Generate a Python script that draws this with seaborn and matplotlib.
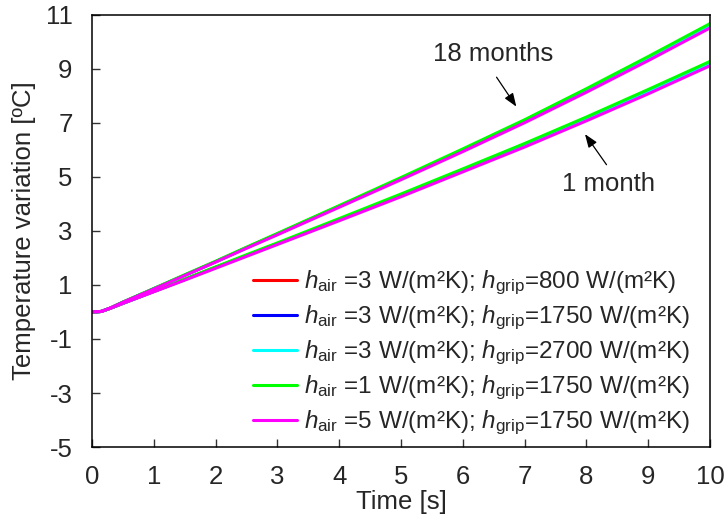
import numpy as np
import pandas as pd
import matplotlib
matplotlib.use("Agg")
import matplotlib.pyplot as plt
import seaborn as sns

# ----------------------------------------------------------
# DATA
# ----------------------------------------------------------
time_s = [0, 0.15, 0.3, 0.5, 1, 1.5, 2, 2.5, 3, 4, 5, 6, 7, 8, 9, 10]

# 18 months curves
red_18 = [0, 0.02, 0.15, 0.36, 0.86, 1.36, 1.86, 2.38, 2.89, 3.92, 4.95, 6.00, 7.07, 8.21, 9.39, 10.61]
blue_18 = [0, 0.02, 0.15, 0.36, 0.86, 1.36, 1.86, 2.38, 2.88, 3.91, 4.94, 5.99, 7.06, 8.20, 9.38, 10.60]
cyan_18 = [0, 0.02, 0.15, 0.36, 0.86, 1.36, 1.86, 2.37, 2.88, 3.90, 4.93, 5.98, 7.05, 8.19, 9.37, 10.59]
green_18 = [0, 0.02, 0.15, 0.37, 0.87, 1.38, 1.88, 2.40, 2.91, 3.94, 4.98, 6.04, 7.12, 8.27, 9.46, 10.68]
magenta_18 = [0, 0.02, 0.15, 0.36, 0.85, 1.35, 1.85, 2.36, 2.86, 3.88, 4.90, 5.94, 7.01, 8.14, 9.31, 10.52]

# 1 month curves
red_1 = [0, 0.02, 0.14, 0.32, 0.76, 1.20, 1.65, 2.09, 2.53, 3.42, 4.32, 5.24, 6.17, 7.15, 8.16, 9.20]
blue_1 = [0, 0.02, 0.14, 0.32, 0.76, 1.20, 1.65, 2.09, 2.53, 3.42, 4.31, 5.23, 6.16, 7.14, 8.15, 9.19]
cyan_1 = [0, 0.02, 0.14, 0.32, 0.76, 1.20, 1.64, 2.08, 2.52, 3.41, 4.31, 5.23, 6.16, 7.13, 8.14, 9.18]
green_1 = [0, 0.02, 0.14, 0.33, 0.77, 1.22, 1.67, 2.12, 2.56, 3.46, 4.37, 5.30, 6.24, 7.22, 8.24, 9.28]
magenta_1 = [0, 0.02, 0.14, 0.32, 0.75, 1.18, 1.62, 2.06, 2.50, 3.38, 4.27, 5.19, 6.11, 7.08, 8.08, 9.12]

labels = [
    r"$h_{\mathrm{air}}$ =3 W/(m²K); $h_{\mathrm{grip}}$=800 W/(m²K)",
    r"$h_{\mathrm{air}}$ =3 W/(m²K); $h_{\mathrm{grip}}$=1750 W/(m²K)",
    r"$h_{\mathrm{air}}$ =3 W/(m²K); $h_{\mathrm{grip}}$=2700 W/(m²K)",
    r"$h_{\mathrm{air}}$ =1 W/(m²K); $h_{\mathrm{grip}}$=1750 W/(m²K)",
    r"$h_{\mathrm{air}}$ =5 W/(m²K); $h_{\mathrm{grip}}$=1750 W/(m²K)",
]
colors = ["#ff0000", "#0000ff", "#00ffff", "#00ff00", "#ff00ff"]
curves_18 = [red_18, blue_18, cyan_18, green_18, magenta_18]
curves_1 = [red_1, blue_1, cyan_1, green_1, magenta_1]

xticks = list(range(0, 11))
yticks = [-5, -3, -1, 1, 3, 5, 7, 9, 11]

# ----------------------------------------------------------
# LONG FORMAT TABLE
# ----------------------------------------------------------
rows = []
for lab, c18, c1 in zip(labels, curves_18, curves_1):
    for t, v in zip(time_s, c18):
        rows.append((lab, "18 months", t, v))
    for t, v in zip(time_s, c1):
        rows.append((lab, "1 month", t, v))
df = pd.DataFrame(rows, columns=["case", "age", "time", "temp"])

# ----------------------------------------------------------
# STYLE
# ----------------------------------------------------------
sns.set_style("ticks")
plt.rcParams["font.family"] = ["Liberation Sans", "DejaVu Sans"]
plt.rcParams["mathtext.fontset"] = "custom"
plt.rcParams["mathtext.rm"] = "Liberation Sans"
plt.rcParams["mathtext.it"] = "Liberation Sans:italic"
plt.rcParams["axes.unicode_minus"] = False

fig = plt.figure(figsize=(7.28, 5.15), dpi=100)
ax = fig.add_axes([0.1264, 0.132, 0.849, 0.839])

sns.lineplot(
    data=df, x="time", y="temp", hue="case", units="age",
    estimator=None, palette=dict(zip(labels, colors)),
    hue_order=labels, linewidth=2.2, ax=ax, sort=False
)

ax.set_xlim(0, 10)
ax.set_ylim(-5, 11)
ax.set_xticks(xticks)
ax.set_yticks(yticks)
ax.tick_params(direction="in", length=6, width=1, labelsize=18.5,
               top=False, right=False, color="#333333")
ax.tick_params(axis="x", pad=13)
ax.tick_params(axis="y", pad=14)
for s in ax.spines.values():
    s.set_linewidth(1.1)
    s.set_color("black")

ax.set_xlabel("Time [s]", fontsize=18.5, labelpad=1)
ax.set_ylabel("Temperature variation [ºC]", fontsize=18.5, labelpad=7)

# annotations
ax.annotate("", xy=(6.89, 7.52), xytext=(6.52, 8.78),
            arrowprops=dict(arrowstyle="-|>,head_length=0.8,head_width=0.3",
                            color="black", lw=0.9))
ax.text(6.49, 9.55, "18 months", fontsize=18.5, ha="center", va="center")
ax.annotate("", xy=(7.95, 6.67), xytext=(8.35, 5.37),
            arrowprops=dict(arrowstyle="-|>,head_length=0.8,head_width=0.3",
                            color="black", lw=0.9))
ax.text(8.35, 4.74, "1 month", fontsize=18.5, ha="center", va="center")

handles, _ = ax.get_legend_handles_labels()
ax.legend(handles[:5], labels, loc="lower right", bbox_to_anchor=(0.995, -0.016),
          frameon=False, fontsize=17.5, handlelength=1.8, handletextpad=0.3,
          labelspacing=0.27, borderaxespad=0.3)

fig.savefig("out.png", dpi=100)
